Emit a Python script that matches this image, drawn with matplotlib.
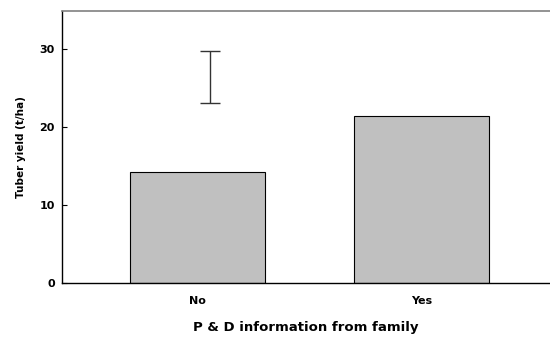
import matplotlib
matplotlib.use('Agg')
import matplotlib.pyplot as plt

categories = ['No', 'Yes']
yield_means = [14.2, 21.4]
# standalone LSD bar drawn near the "No" bar
lsd_x = 0.056
lsd_low = 23.1
lsd_high = 29.8

plt.rcParams['font.family'] = 'DejaVu Sans'
plt.rcParams['font.weight'] = 'bold'

fig = plt.figure(figsize=(5.5, 3.38), dpi=100)
ax = fig.add_axes([0.1136, 0.1627, 0.8864, 0.806])

x = range(len(categories))
ax.bar(x, yield_means, width=0.6, color='#c0c0c0', edgecolor='black', linewidth=0.8)

mid = (lsd_low + lsd_high) / 2
ax.errorbar([lsd_x], [mid], yerr=[(lsd_high - lsd_low) / 2], fmt='none',
            ecolor='#333333', elinewidth=1.0, capsize=7, capthick=1.0)

ax.set_xlim(-0.603, 1.574)
ax.set_ylim(0, 35)
ax.set_yticks([0, 10, 20, 30])
ax.set_xticks(list(x))
ax.set_xticklabels(categories)

ax.tick_params(axis='y', direction='in', length=3.6, width=0.8, pad=5.4, labelsize=8)
ax.tick_params(axis='x', length=0, pad=9.5, labelsize=8)
for lab in ax.get_yticklabels() + ax.get_xticklabels():
    lab.set_fontweight('bold')

ax.spines['right'].set_visible(False)
ax.spines['top'].set_color('#808080')
ax.spines['top'].set_linewidth(1.2)
ax.spines['left'].set_linewidth(1.0)
ax.spines['bottom'].set_linewidth(1.0)

ax.set_xlabel('P & D information from family', fontsize=9.5, fontweight='bold', labelpad=11)
ax.set_ylabel('Tuber yield (t/ha)', fontsize=7.5, fontweight='bold', labelpad=10)

fig.savefig('out.png', dpi=100)
